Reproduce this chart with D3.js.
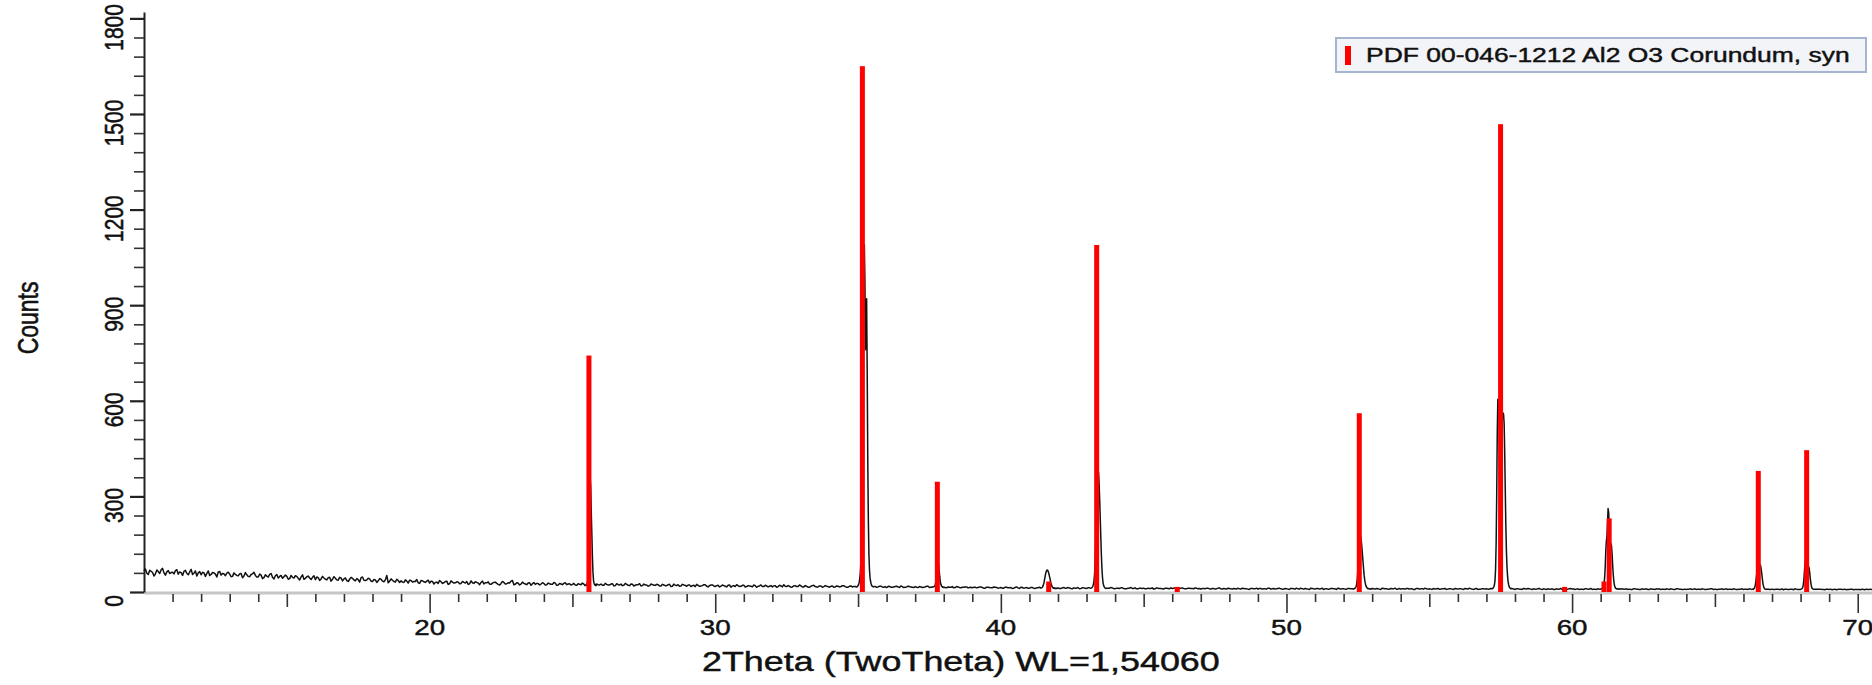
<!DOCTYPE html>
<html>
<head>
<meta charset="utf-8">
<script src="https://cdn.jsdelivr.net/npm/d3@7"></script>
<style>
  body { margin: 0; background: #fff; }
  svg { display: block; }
  text { font-family: "Liberation Sans", Arial, sans-serif; fill: #111; stroke: #111; stroke-width: 0.45px; }
</style>
</head>
<body>
<figure class="xrd" style="margin:0"></figure>
<script>
//////////////////////////////////////////////////////////////////////
//////////////////data///////////////////////////////
//////////////////////////////////////////////////////////////////////

// measured background, 10.0 .. 70.5 deg, 0.1 deg apart
var bgStart = 10;
var bgStep = 0.1;
var bgCounts = [
  66,59,68,61,57,64,70,60,63,58,  62,67,56,61,65,58,63,55,66,60,
  54,60,58,52,61,56,63,53,57,59,  56,49,55,51,58,50,54,48,57,52,
  47,53,45,50,55,46,51,44,52,48,  49,42,46,51,43,47,40,48,44,46,
  39,45,41,44,38,46,40,43,37,44,  41,36,40,43,35,39,45,37,38,41,
  33,38,35,40,32,52,34,37,31,36,  35,30,34,37,31,33,29,36,32,34,
  28,33,30,27,32,29,34,26,31,29,  31,27,30,33,26,29,32,28,30,25,
  29,25,28,31,24,27,30,26,28,36,  24,28,25,27,23,29,26,24,27,25,
  27,23,26,24,28,22,25,27,23,26,  24,22,26,23,25,25,24,22,26,23,
  25,21,24,22,26,20,23,25,21,24,  20,24,21,23,19,25,22,20,23,21,
  23,19,22,20,24,18,21,23,19,22,  18,22,20,17,21,19,23,18,20,22,
  17,21,18,20,16,22,19,17,20,18,  21,17,19,16,20,18,22,17,19,18,
  16,20,17,19,23,17,18,16,20,17,  19,16,18,15,20,17,16,19,17,18,
  15,19,16,18,17,20,15,18,16,17,  17,15,18,16,19,15,17,16,18,15,
  14,18,15,17,16,19,14,16,17,15,  17,14,16,15,18,14,16,15,17,14,
  16,13,15,17,14,16,13,15,16,14,  13,15,14,16,12,15,14,13,15,12,
  14,12,15,13,11,14,13,15,12,14,  12,14,11,13,15,12,13,11,14,12,
  13,11,14,12,13,10,12,14,11,13,  11,13,12,10,13,12,14,11,12,13,
  10,12,13,11,10,12,11,13,10,12,  12,10,11,13,10,12,11,9,12,10,
  11,13,10,12,11,10,12,11,13,10,  9,11,12,10,11,9,12,10,11,9,
  11,9,10,12,9,11,10,8,11,10,     9,11,10,9,12,10,9,11,10,9,
  10,8,11,9,10,12,9,10,8,11,      9,11,10,8,10,9,11,10,12,9,
  10,9,11,10,8,10,9,11,10,9,      11,9,10,8,11,10,9,10,12,9,
  9,10,11,9,10,8,11,10,9,10,      10,8,9,11,9,10,8,10,9,11,
  9,10,8,10,12,9,10,8,9,10,       10,9,8,10,9,10,11,9,10,9,
  8,10,9,11,9,10,8,9,10,9,        10,8,9,10,8,9,11,9,8,10,
  9,8,10,9,8,10,9,8,9,10,         8,9,10,8,9,9,10,8,9,10,
  9,8,10,9,8,9,10,8,9,8,          9,8,9,10,8,9,8,10,9,8,
  8,9,8,10,9,8,9,8,9,10,          9,8,9,8,10,9,8,9,8,9,
  8,9,10,8,9,8,9,10,8,9,          9,8,9,8,7,9,8,9,10,8,
  9,8,9,8,9,8,7,9,8,9,            8,7,9,8,9,8,7,8,9,8,
  8,7,8,9,8,7
];

// the in-between readings, 10.05 .. 70.45 deg
var bgHalfStart = 10.05;
var bgHalfCounts = [
  72,55,65,50,69,58,74,53,67,61,  57,70,63,52,68,54,71,59,50,64,
  62,49,66,55,60,47,64,58,51,62,  48,60,52,57,45,61,49,55,62,47,
  56,42,54,47,58,41,55,49,43,53,  40,52,44,49,38,54,43,50,39,51,
  47,36,49,40,45,34,48,38,46,35,  44,33,46,38,42,31,47,36,43,34,
  39,30,42,34,38,29,41,33,40,30,  31,38,28,36,33,39,27,35,30,37,
  34,25,31,36,27,33,24,35,28,32,  26,33,28,24,35,27,30,23,34,29,
  32,24,30,27,22,33,25,29,34,23,  29,22,31,25,28,21,30,27,22,29,
  22,28,24,30,21,27,23,29,25,22,  27,21,24,28,22,23,26,21,25,22,
  21,27,22,25,19,26,22,20,27,21,  25,19,23,26,20,22,18,25,21,24,
  19,24,20,23,17,25,20,18,24,21,  22,17,21,24,18,20,23,16,22,19,
  20,16,22,18,21,15,20,23,17,21,  16,20,18,22,15,19,17,21,16,20,
  19,15,21,16,18,20,15,19,17,22,  16,20,15,18,21,16,19,15,20,17,
  18,15,19,16,20,17,15,19,17,16,  16,18,15,19,16,17,15,18,16,17,
  17,15,16,18,14,17,15,18,16,14,  15,17,14,16,18,15,17,14,16,15,
  14,16,15,13,17,14,15,16,13,15,  15,13,16,14,12,15,13,16,14,13,
  12,15,13,14,12,16,11,14,13,12,  14,12,13,15,11,14,12,13,15,11,
  11,13,12,14,11,13,12,10,13,12,  13,12,11,14,12,13,11,12,14,11,
  12,11,13,10,12,14,11,10,12,11,  10,12,11,9,13,11,10,12,11,13,
  12,10,11,13,10,12,11,10,12,11,  11,10,12,9,11,10,13,9,10,12,
  10,11,9,10,12,10,9,11,10,12,    11,9,10,12,9,11,10,12,9,11,
  9,11,10,12,9,10,11,9,12,10,     11,9,12,10,9,11,10,8,11,10,
  9,11,10,9,11,10,9,11,10,9,      10,11,9,12,10,9,11,10,9,11,
  10,9,11,10,8,11,9,10,12,9,      9,11,10,9,10,11,9,10,8,10,
  10,9,11,9,10,8,11,9,10,9,       9,11,10,9,10,9,10,8,9,10,
  10,9,8,10,11,9,10,9,11,8,       9,10,9,8,10,9,8,10,9,11,
  10,9,8,9,10,9,11,9,8,9,         9,10,9,10,8,10,9,10,9,8,
  8,10,9,8,10,9,8,10,9,10,        10,9,8,9,10,8,10,9,8,9,
  9,10,9,8,9,10,8,9,10,8,         8,9,10,9,8,9,10,8,9,10,
  9,8,9,10,8,9,8,9,10,8,          8,9,8,10,9,8,9,7,9,8,
  8,9,8,9,10,8,9,8,7,9,           9,8,7,9,8,9,8,9,7,8,
  8,9,7,8,9
];

// reflections, 0.02 deg apart
var peakStep = 0.02;
var peakStarts = [25.44, 34.96, 37.62, 41.40, 43.16, 52.36, 57.20, 61.00, 66.30, 68.00];
var peakCounts = [
  [20,22,21,24,28,40,90,175,300,360,330,250,180,110,60,35,26,22,24,20,22],
  [16,18,20,24,30,42,60,95,170,330,600,712,950,1090,980,760,880,920,700,420,230,120,70,45,32,25,20,18,17,16,17],
  [15,16,17,18,22,30,45,70,88,92,85,68,48,32,24,19,17,15,16,14,15],
  [12,13,14,16,20,26,34,44,54,62,67,69,68,64,58,50,42,33,26,20,16,14,12,13,11,12,11,12,11],
  [12,13,15,18,24,35,55,95,160,240,310,360,382,375,340,290,230,170,115,72,44,28,20,16,13,12,11,12],
  [10,11,12,14,18,26,42,70,110,150,172,178,172,160,140,118,95,72,52,37,27,20,16,13,11,10,11,10,9,10,9],
  [10,11,13,16,22,35,70,150,300,500,605,590,545,510,500,505,520,540,555,562,558,530,440,320,210,130,80,50,32,22,16,13,11,10,11,10],
  [9,10,11,12,14,18,26,45,80,130,160,175,215,262,250,200,165,150,152,145,120,85,55,35,22,16,12,11,10,9,10,9,10,9,10,9],
  [8,9,8,10,12,16,24,38,55,68,72,74,78,84,86,82,72,58,42,28,19,13,10,9,8,9,8,9,8,9,8],
  [8,9,10,12,16,26,45,72,92,100,90,75,72,78,80,74,60,42,28,18,12,10,9,8,9,8,9,8,9,8,9]
];

// PDF 00-046-1212 Al2 O3 stick pattern
var refTheta = [25.578, 35.152, 37.776, 41.675, 43.355, 46.175, 52.549, 57.496, 59.739, 61.117, 61.298, 66.519, 68.212];
var refCounts = [742, 1650, 346, 33, 1089, 16, 561, 1468, 16, 33, 231, 380, 445];

var xTicks = [20, 30, 40, 50, 60, 70];
var yTicks = [0, 300, 600, 900, 1200, 1500, 1800];
var legendLabel = "PDF 00-046-1212 Al2 O3 Corundum, syn";
var xTitle = "2Theta (TwoTheta) WL=1,54060";
var yTitle = "Counts";

//////////////////////////////////////////////////////////////////////
//////////////////build the scan///////////////////////////////////////
//////////////////////////////////////////////////////////////////////
var w = 1872;
var h = 685;
var stretch = 1.26; // text in the original is drawn wide

function inPeak(t){
  return peakStarts.some(function(s, k){
    var e = s + (peakCounts[k].length - 1) * peakStep;
    return t >= s - 1e-6 && t <= e + 1e-6;
  });
}

var scan = [];
bgCounts.forEach(function(c, i){
  var t = +(bgStart + i * bgStep).toFixed(2);
  if(!inPeak(t)) scan.push([t, c]);
});
bgHalfCounts.forEach(function(c, i){
  var t = +(bgHalfStart + i * bgStep).toFixed(2);
  if(!inPeak(t)) scan.push([t, c]);
});
peakStarts.forEach(function(s, k){
  peakCounts[k].forEach(function(c, i){
    scan.push([+(s + i * peakStep).toFixed(2), c]);
  });
});
scan.sort(function(a, b){ return a[0] - b[0]; });

var svg = d3.select("figure.xrd")
            .append("svg")
            .attr("width", w)
            .attr("height", h);

var x = d3.scaleLinear().domain([10, 70.5]).range([144, 1872]);
var y = d3.scaleLinear().domain([0, 1820]).range([592, 12]);

//x axis: grey base band + ticks
svg.append("line")
   .attr("x1", x(10)).attr("x2", w)
   .attr("y1", y(0) + 1).attr("y2", y(0) + 1)
   .attr("stroke", "#c6c6c6")
   .attr("stroke-width", 3);

var minorX = d3.range(11, 71).filter(function(d){ return d % 5 !== 0; });
var midX = d3.range(15, 71, 10);

function xTickGroup(vals, size){
  var g = svg.append("g")
             .attr("transform", "translate(0," + (y(0) + 2) + ")")
             .call(d3.axisBottom(x).tickValues(vals).tickSize(size).tickSizeOuter(0).tickFormat(""));
  g.select(".domain").remove();
  g.selectAll("line").attr("stroke", "#333").attr("stroke-width", 1.6);
}
xTickGroup(minorX, 8);
xTickGroup(midX, 13);
xTickGroup(xTicks, 19);

svg.append("g")
   .selectAll("text")
   .data(xTicks)
   .enter()
   .append("text")
     .attr("transform", function(d){ return "translate(" + x(d) + ",635) scale(" + stretch + ",1)"; })
     .attr("text-anchor", "middle")
     .style("font-size", "22px")
     .text(function(d){ return d; });

//y axis
var minorY = d3.range(60, 1800, 60).filter(function(d){ return d % 300 !== 0; });
var yMinor = svg.append("g")
                .attr("transform", "translate(" + x(10) + ",0)")
                .call(d3.axisLeft(y).tickValues(minorY).tickSize(10).tickSizeOuter(0).tickFormat(""));
yMinor.selectAll("line").attr("stroke", "#333").attr("stroke-width", 1.6);
yMinor.select(".domain").attr("stroke", "#222").attr("stroke-width", 2);

var yMajor = svg.append("g")
                .attr("transform", "translate(" + x(10) + ",0)")
                .call(d3.axisLeft(y).tickValues(yTicks).tickSize(14).tickSizeOuter(0).tickFormat(""));
yMajor.select(".domain").remove();
yMajor.selectAll("line").attr("stroke", "#222").attr("stroke-width", 2.2);

// labels sit a little below their tick, as in the scan software
svg.append("g")
   .selectAll("text")
   .data(yTicks)
   .enter()
   .append("text")
     .attr("transform", function(d){ return "translate(123," + (y(d) + 9) + ") scale(" + stretch + ",1) rotate(-90)"; })
     .attr("text-anchor", "middle")
     .style("font-size", "21px")
     .text(function(d){ return d; });

//titles
svg.append("text")
   .attr("transform", "translate(" + x(38.6) + ",671) scale(" + stretch + ",1)")
   .attr("text-anchor", "middle")
   .style("font-size", "28.5px")
   .text(xTitle);

svg.append("text")
   .attr("transform", "translate(38," + y(860) + ") scale(" + stretch + ",1) rotate(-90)")
   .attr("text-anchor", "middle")
   .style("font-size", "23px")
   .text(yTitle);

//measured pattern
var line = d3.line()
             .x(function(d){ return x(d[0]); })
             .y(function(d){ return y(d[1]); });

svg.append("path")
   .datum(scan)
   .attr("d", line)
   .attr("fill", "none")
   .attr("stroke", "#111")
   .attr("stroke-width", 1.5)
   .attr("stroke-linejoin", "round");

//reference sticks on top
svg.append("g")
   .selectAll("rect")
   .data(refTheta)
   .enter()
   .append("rect")
     .attr("x", function(d){ return x(d) - 2.5; })
     .attr("width", 5)
     .attr("y", function(d, i){ return y(refCounts[i]); })
     .attr("height", function(d, i){ return y(0) - y(refCounts[i]); })
     .attr("fill", "#ff0000");

//legend
var legend = svg.append("g").attr("class", "legend");
legend.append("rect")
      .attr("x", 1336).attr("y", 38)
      .attr("width", 530).attr("height", 34)
      .attr("fill", "#f3f4f8")
      .attr("stroke", "#a5b4cf")
      .attr("stroke-width", 2);
legend.append("rect")
      .attr("x", 1345).attr("y", 46)
      .attr("width", 6).attr("height", 19)
      .attr("fill", "#ff0000");
legend.append("text")
      .attr("transform", "translate(1366,62) scale(" + stretch + ",1)")
      .style("font-size", "21px")
      .text(legendLabel);
</script>
</body>
</html>
